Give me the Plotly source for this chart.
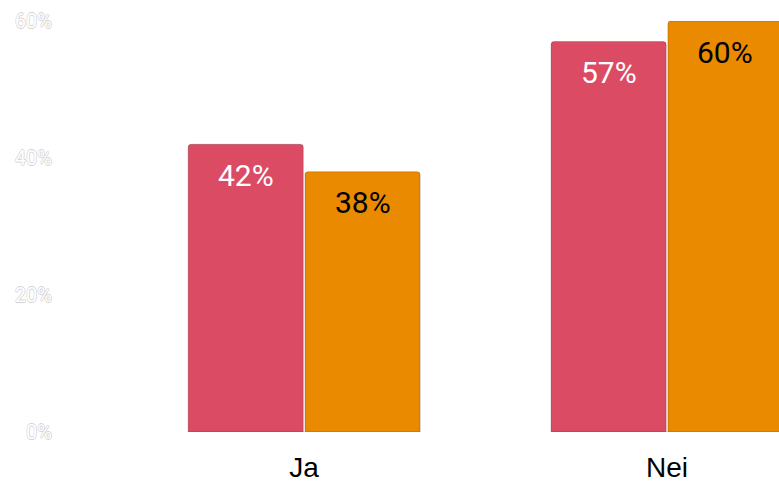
import plotly.graph_objects as go

categories = ["Ja", "Nei"]
series_a = [0.42, 0.57]
series_b = [0.38, 0.60]
labels_a = ["42%", "57%"]
labels_b = ["38%", "60%"]
ytick_vals = [0, 0.2, 0.4, 0.6]
ytick_text = ["0%", "20%", "40%", "60%"]

RED = "#DC4B64"
ORANGE = "#EA8A00"
bargap = 0.356
xs = list(range(len(categories)))

fig = go.Figure()
fig.add_trace(go.Bar(x=xs, y=series_a, marker=dict(color=RED, line=dict(color="rgba(0,0,0,0.2)", width=1)),
                     textposition="none", hoverinfo="skip"))
fig.add_trace(go.Bar(x=xs, y=series_b, marker=dict(color=ORANGE, line=dict(color="rgba(0,0,0,0.2)", width=1)),
                     textposition="none", hoverinfo="skip"))

slot = (1 - bargap) / 2
ann = []
for i in xs:
    ann.append(dict(x=i - slot / 2, y=series_a[i], xref="x", yref="y", text=labels_a[i], showarrow=False,
                    yanchor="middle", yshift=-31, font=dict(family="Roboto", size=30, color="white")))
    ann.append(dict(x=i + slot / 2, y=series_b[i], xref="x", yref="y", text=labels_b[i], showarrow=False,
                    yanchor="middle", yshift=-31, font=dict(family="Roboto", size=30, color="black")))

oc = "#d4d4d4"
outline = f"0.6px 0 0 {oc}, -0.6px 0 0 {oc}, 0 0.6px 0 {oc}, 0 -0.6px 0 {oc}"
fig.update_layout(
    width=779, height=483,
    margin=dict(l=53, r=0, t=21, b=51),
    paper_bgcolor="white", plot_bgcolor="white",
    barmode="group", bargap=bargap, bargroupgap=0.015, barcornerradius=3,
    showlegend=False,
    annotations=ann,
    xaxis=dict(tickvals=xs, ticktext=categories, range=[-0.692, 1.3085],
               showgrid=False, zeroline=False, showline=False,
               ticks="outside", ticklen=10, tickcolor="rgba(0,0,0,0)",
               tickfont=dict(family="Liberation Sans, Arial", size=28, color="black")),
    yaxis=dict(range=[0, 0.6], tickvals=ytick_vals, ticktext=ytick_text,
               showgrid=False, zeroline=False, showline=False,
               tickfont=dict(family="Roboto", size=20, color="white", shadow=outline)),
)
fig.write_html("out.html", config={"displayModeBar": False},
               post_script="document.body.style.margin='0';")
